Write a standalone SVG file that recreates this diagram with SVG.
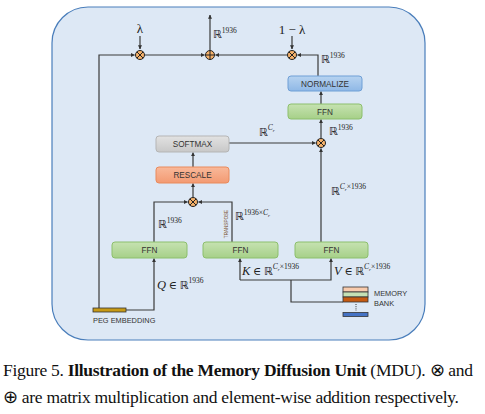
<svg xmlns="http://www.w3.org/2000/svg" width="485" height="414" viewBox="0 0 485 414">
<defs>
<marker id="ah" viewBox="0 0 6 6" refX="5.5" refY="3" markerWidth="4.2" markerHeight="4.2" orient="auto" markerUnits="userSpaceOnUse">
<path d="M0,0 L6,3 L0,6 Z" fill="#333"/>
</marker>
<linearGradient id="gGreen" x1="0" y1="0" x2="0" y2="1"><stop offset="0" stop-color="#c6e2b1"/><stop offset="1" stop-color="#a6d088"/></linearGradient>
<linearGradient id="gBlue" x1="0" y1="0" x2="0" y2="1"><stop offset="0" stop-color="#b7d3f0"/><stop offset="1" stop-color="#8fb8e6"/></linearGradient>
<linearGradient id="gGray" x1="0" y1="0" x2="0" y2="1"><stop offset="0" stop-color="#e2e2e2"/><stop offset="1" stop-color="#c8c8c8"/></linearGradient>
<linearGradient id="gOrange" x1="0" y1="0" x2="0" y2="1"><stop offset="0" stop-color="#f9b99a"/><stop offset="1" stop-color="#f39a72"/></linearGradient>
</defs>
<style>
.box{stroke-width:1}
.green{fill:url(#gGreen);stroke:#8cbf6c}
.blue{fill:url(#gBlue);stroke:#6f9fd6}
.gray{fill:url(#gGray);stroke:#b5b5b5}
.orange{fill:url(#gOrange);stroke:#e98a5c}
.bt{font-family:"Liberation Sans",Arial,sans-serif;font-size:8.2px;fill:#333;text-anchor:middle}
.conn{fill:none;stroke:#3a3a3a;stroke-width:1.2}
.op{fill:#f6b26b;stroke:#222;stroke-width:1}
.opl{stroke:#222;stroke-width:1}
.m{font-family:"Liberation Serif","DejaVu Serif",serif;fill:#222}
.R{font-family:"DejaVu Sans","Noto Sans",sans-serif;font-weight:normal}
.mi{font-family:"Liberation Serif","DejaVu Serif",serif;font-style:italic;fill:#222}
.cap{font-family:"Liberation Serif","Times New Roman",serif;font-size:17.5px;fill:#111}
</style>
<rect x="52" y="7" width="373" height="333" rx="36" ry="36" fill="#dde8f5" stroke="#4a7ebb" stroke-width="1.2"/>

<g id="connectors">
<path class="conn" d="M140,36 V49" marker-end="url(#ah)"/>
<path class="conn" d="M99,308 V55 H134.5" marker-end="url(#ah)"/>
<path class="conn" d="M145,55 H204.5" marker-end="url(#ah)"/>
<path class="conn" d="M210,50 V15" marker-end="url(#ah)"/>
<path class="conn" d="M287,55 H215.5" marker-end="url(#ah)"/>
<path class="conn" d="M292,36 V49" marker-end="url(#ah)"/>
<path class="conn" d="M318,76 V55 H297.5" marker-end="url(#ah)"/>
<path class="conn" d="M321,104 V91.5" marker-end="url(#ah)"/>
<path class="conn" d="M321,138 V119.5" marker-end="url(#ah)"/>
<path class="conn" d="M229,143 H315.5" marker-end="url(#ah)"/>
<path class="conn" d="M321,242 V148.5" marker-end="url(#ah)"/>
<path class="conn" d="M193,167 V152.5" marker-end="url(#ah)"/>
<path class="conn" d="M193,197 V183.5" marker-end="url(#ah)"/>
<path class="conn" d="M154,242 V202 H187.5" marker-end="url(#ah)"/>
<path class="conn" d="M232,242 V202 H198.5" marker-end="url(#ah)"/>
<path class="conn" d="M126,310 H154 V258.5" marker-end="url(#ah)"/>
<path class="conn" d="M240,280 V258.5" marker-end="url(#ah)"/>
<path class="conn" d="M240,280 H331 V258.5" marker-end="url(#ah)"/>
<path class="conn" d="M291,280 V302 H343"/>
</g>

<g id="mul-lambda"><circle class="op" cx="140" cy="55" r="4.5"/><path class="opl" d="M136.8,51.8 L143.2,58.2 M143.2,51.8 L136.8,58.2"/></g>
<g id="add"><circle class="op" cx="210" cy="55" r="4.5"/><path class="opl" d="M205.5,55 H214.5 M210,50.5 V59.5"/></g>
<g id="mul-1-lambda"><circle class="op" cx="292" cy="55" r="4.5"/><path class="opl" d="M288.8,51.8 L295.2,58.2 M295.2,51.8 L288.8,58.2"/></g>
<g id="mul-value"><circle class="op" cx="321" cy="143" r="4.5"/><path class="opl" d="M317.8,139.8 L324.2,146.2 M324.2,139.8 L317.8,146.2"/></g>
<g id="mul-qk"><circle class="op" cx="193" cy="202" r="4.5"/><path class="opl" d="M189.8,198.8 L196.2,205.2 M196.2,198.8 L189.8,205.2"/></g>

<g id="normalize"><rect class="box blue" x="288" y="76" width="74" height="15" rx="3"/><text class="bt" x="325" y="86.8">NORMALIZE</text></g>
<g id="ffn-top"><rect class="box green" x="288" y="104" width="74" height="15" rx="3"/><text class="bt" x="325" y="114.8">FFN</text></g>
<g id="softmax"><rect class="box gray" x="156" y="136" width="73" height="16" rx="3"/><text class="bt" x="192.5" y="147.3">SOFTMAX</text></g>
<g id="rescale"><rect class="box orange" x="156" y="167" width="73" height="16" rx="3"/><text class="bt" x="192.5" y="178.3">RESCALE</text></g>
<g id="ffn-q"><rect class="box green" x="112" y="242" width="75" height="16" rx="3"/><text class="bt" x="149.5" y="253.3">FFN</text></g>
<g id="ffn-k"><rect class="box green" x="203" y="242" width="75" height="16" rx="3"/><text class="bt" x="240.5" y="253.3">FFN</text></g>
<g id="ffn-v"><rect class="box green" x="295" y="242" width="73" height="16" rx="3"/><text class="bt" x="331.5" y="253.3">FFN</text></g>

<g id="peg-embedding">
<rect x="93" y="308" width="33" height="4" fill="#c79a16" stroke="#333" stroke-width="0.8"/>
<text x="93" y="323" font-family="'Liberation Sans',Arial,sans-serif" font-size="7.4" fill="#333">PEG EMBEDDING</text>
</g>
<g id="memory-bank">
<rect x="343" y="287" width="25" height="5" fill="#f8cbad" stroke="#333" stroke-width="0.8"/>
<rect x="343" y="292" width="25" height="5" fill="#c5e0b4" stroke="#333" stroke-width="0.8"/>
<rect x="343" y="297" width="25" height="5" fill="#c55a11" stroke="#333" stroke-width="0.8"/>
<path d="M356,304 V311" stroke="#333" stroke-width="1" stroke-dasharray="1,1.2"/>
<rect x="343" y="312.5" width="25" height="4" fill="#4472c4" stroke="#333" stroke-width="0.8"/>
<text x="374" y="296" font-family="'Liberation Sans',Arial,sans-serif" font-size="7.4" fill="#333">MEMORY</text>
<text x="374" y="306" font-family="'Liberation Sans',Arial,sans-serif" font-size="7.4" fill="#333">BANK</text>
</g>

<g id="labels">
<text class="m" x="140" y="33" font-size="13" text-anchor="middle">λ</text>
<text class="m" x="292" y="34" font-size="13" text-anchor="middle">1 − λ</text>
<text class="m" x="213" y="38" font-size="11"><tspan class="R">ℝ</tspan><tspan font-size="7.5" dy="-5">1936</tspan></text>
<text class="m" x="321" y="63" font-size="11"><tspan class="R">ℝ</tspan><tspan font-size="7.5" dy="-5">1936</tspan></text>
<text class="m" x="329" y="135" font-size="11"><tspan class="R">ℝ</tspan><tspan font-size="7.5" dy="-5">1936</tspan></text>
<text class="m" x="259" y="136" font-size="11"><tspan class="R">ℝ</tspan><tspan font-size="7.5" dy="-6" font-style="italic">C</tspan><tspan font-size="5" dy="1.5" font-style="italic">r</tspan></text>
<text class="m" x="158" y="228" font-size="11"><tspan class="R">ℝ</tspan><tspan font-size="7.5" dy="-5">1936</tspan></text>
<text class="m" x="235" y="220" font-size="11"><tspan class="R">ℝ</tspan><tspan font-size="7.5" dy="-5">1936×</tspan><tspan font-size="7.5" font-style="italic">C</tspan><tspan font-size="5" dy="1.5" font-style="italic">r</tspan></text>
<text x="0" y="0" transform="translate(228,224) rotate(-90)" font-family="'Liberation Sans',Arial,sans-serif" font-size="4.6" fill="#7a5230" text-anchor="middle">TRANSPOSE</text>
<text class="m" x="331" y="195" font-size="11"><tspan class="R">ℝ</tspan><tspan font-size="7.5" dy="-6" font-style="italic">C</tspan><tspan font-size="5" dy="1.5" font-style="italic">r</tspan><tspan font-size="7.5" dy="-1.5">×1936</tspan></text>
<text class="m" x="157" y="289" font-size="11"><tspan class="mi" font-size="12.5">Q</tspan> ∈ <tspan class="R">ℝ</tspan><tspan font-size="7.5" dy="-6">1936</tspan></text>
<text class="m" x="242" y="275" font-size="11"><tspan class="mi" font-size="12.5">K</tspan> ∈ <tspan class="R">ℝ</tspan><tspan font-size="7.5" dy="-6" font-style="italic">C</tspan><tspan font-size="5" dy="1.5" font-style="italic">r</tspan><tspan font-size="7.5" dy="-1.5">×1936</tspan></text>
<text class="m" x="334" y="275" font-size="11"><tspan class="mi" font-size="12.5">V</tspan> ∈ <tspan class="R">ℝ</tspan><tspan font-size="7.5" dy="-6" font-style="italic">C</tspan><tspan font-size="5" dy="1.5" font-style="italic">r</tspan><tspan font-size="7.5" dy="-1.5">×1936</tspan></text>
</g>

<g id="caption">
<text class="cap" x="3" y="376" textLength="470" lengthAdjust="spacing">Figure 5. <tspan font-weight="bold">Illustration of the Memory Diffusion Unit</tspan> (MDU). ⊗ and</text>
<text class="cap" x="3" y="403" textLength="456" lengthAdjust="spacing">⊕ are matrix multiplication and element-wise addition respectively.</text>
</g>
</svg>
